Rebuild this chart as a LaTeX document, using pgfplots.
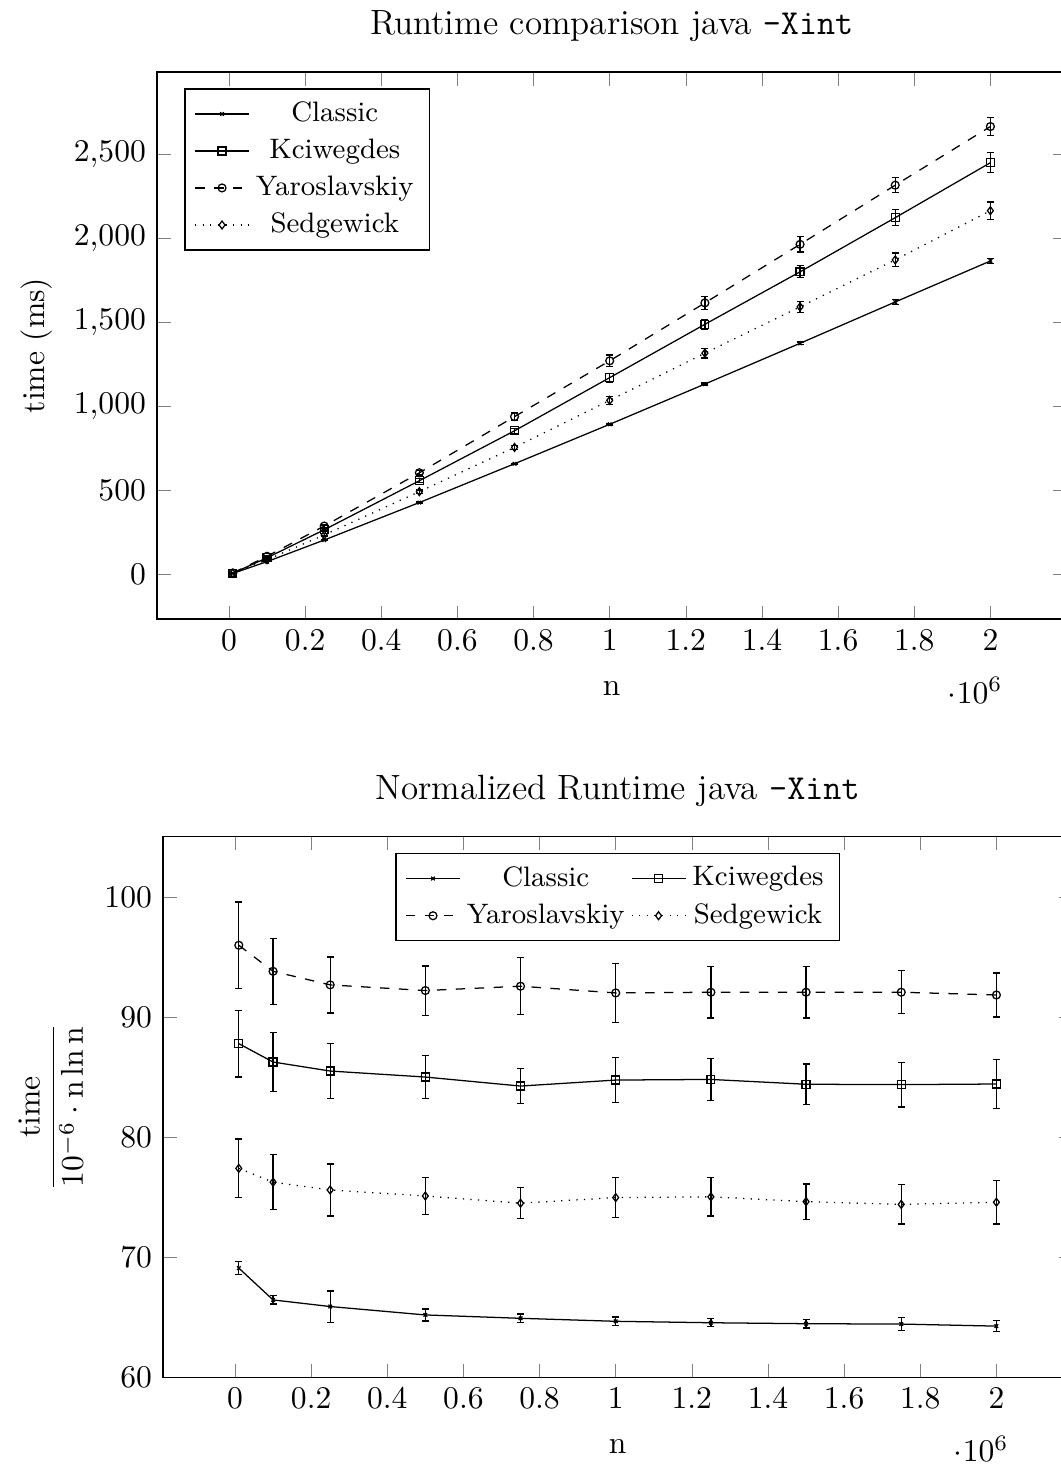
\documentclass[border=0pt]{standalone}
\usepackage{pgfplots}
\usepackage{pgfplotstable}
\pgfplotsset{compat=1.18}

\pgfplotstableread{
n       c      ce    k      ke    y      ye    s      se
10000   6.36   0.05  8.08   0.26  8.84   0.33  7.13   0.23
100000  76.5   0.4   99.3   2.8   108.0  3.2   87.8   2.7
250000  204.8  4.0   265.7  7.1   288.0  7.2   234.9  6.7
500000  427.8  3.3   557.7  11.6  604.9  13.5  492.7  10.2
750000  658.7  3.6   854.8  14.7  939.1  23.9  755.9  13.2
1000000 893.4  4.8   1170.9 25.6  1271.0 34.1  1035.7 23.1
1250000 1132.7 5.8   1488.1 30.7  1615.5 37.7  1316.6 28.1
1500000 1375.2 7.5   1800.4 35.8  1963.8 45.9  1592.0 31.4
1750000 1621.1 13.0  2122.4 47.0  2315.9 45.3  1871.6 41.0
2000000 1864.9 13.6  2449.6 58.9  2664.6 53.1  2164.1 52.2
}\abs

\pgfplotstableread{
n       c     ce    k     ke    y     ye    s     se
10000   69.1  0.55  87.78 2.78  95.97 3.6   77.4  2.45
100000  66.45 0.35  86.25 2.47  93.8  2.75  76.25 2.3
250000  65.9  1.3   85.5  2.3   92.67 2.33  75.6  2.17
500000  65.2  0.5   85.0  1.77  92.2  2.05  75.1  1.55
750000  64.92 0.35  84.25 1.45  92.56 2.36  74.5  1.3
1000000 64.67 0.35  84.75 1.85  92.0  2.47  74.97 1.67
1250000 64.55 0.33  84.8  1.75  92.06 2.15  75.03 1.6
1500000 64.47 0.35  84.4  1.68  92.06 2.15  74.63 1.47
1750000 64.44 0.53  84.37 1.87  92.06 1.8   74.4  1.63
2000000 64.27 0.47  84.42 2.03  91.83 1.83  74.58 1.8
}\norm

\pgfplotsset{
  myaxis/.style={
    scale only axis,
    width=287.7pt,
    xmin=-189000, xmax=2199000,
    xtick={0,200000,400000,600000,800000,1000000,1200000,1400000,1600000,1800000,2000000},
    xlabel={$\mathrm{n}$},
    xlabel style={yshift=-3pt},
    mark size=1.25pt,
    legend cell align=center,
    legend style={draw=black, fill=white, font=\fontsize{8.9}{10.6}\selectfont},
    title style={font=\fontsize{11.1}{13.3}\selectfont},
    every axis plot/.append style={black, thin},
  },
  eb/.style={error bars/.cd, y dir=both, y explicit,
    error bar style={black, thin, solid},
    error mark options={rotate=90, black, thin, solid, mark size=1.1pt}},
}

\begin{document}
\begin{tikzpicture}
\begin{axis}[myaxis,
  name=T, at={(0pt,0pt)}, anchor=south west,
  height=173.1pt,
  ymin=-265, ymax=2989,
  ytick={0,500,1000,1500,2000,2500},
  ylabel={time (ms)},
  title={Runtime comparison java \texttt{-Xint}},
  legend pos=north west,
]
\addplot+[black, solid, mark=x, mark size=0.8pt, eb] table[x=n, y=c, y error=ce] {\abs};
\addlegendentry{Classic}
\addplot+[black, solid, mark=square, mark options={solid, fill=white}, eb] table[x=n, y=k, y error=ke] {\abs};
\addlegendentry{Kciwegdes}
\addplot+[black, dashed, mark=o, mark options={solid, fill=white}, eb] table[x=n, y=y, y error=ye] {\abs};
\addlegendentry{Yaroslavskiy}
\addplot+[black, dotted, mark=diamond, mark options={solid, fill=white}, eb] table[x=n, y=s, y error=se] {\abs};
\addlegendentry{Sedgewick}
\end{axis}

\begin{axis}[myaxis,
  name=B, at={(1.9pt,-240pt)}, anchor=south west,
  height=171.1pt,
  ymin=60, ymax=105,
  ytick={60,70,80,90,100},
  ylabel={$\displaystyle\frac{\mathrm{time}}{10^{-6}\cdot \mathrm{n}\ln \mathrm{n}}$},
  title={Normalized Runtime java \texttt{-Xint}},
  legend columns=2,
  legend style={at={(0.5,0.97)}, anchor=north},
]
\addplot+[black, solid, mark=x, mark size=0.8pt, eb] table[x=n, y=c, y error=ce] {\norm};
\addlegendentry{Classic}
\addplot+[black, solid, mark=square, mark options={solid, fill=white}, eb] table[x=n, y=k, y error=ke] {\norm};
\addlegendentry{Kciwegdes}
\addplot+[black, dashed, mark=o, mark options={solid, fill=white}, eb] table[x=n, y=y, y error=ye] {\norm};
\addlegendentry{Yaroslavskiy}
\addplot+[black, dotted, mark=diamond, mark options={solid, fill=white}, eb] table[x=n, y=s, y error=se] {\norm};
\addlegendentry{Sedgewick}
\end{axis}

\pgfresetboundingbox
\path[use as bounding box] (-49.7pt,-271.2pt) rectangle (285.8pt,195.9pt);
\end{tikzpicture}
\end{document}
